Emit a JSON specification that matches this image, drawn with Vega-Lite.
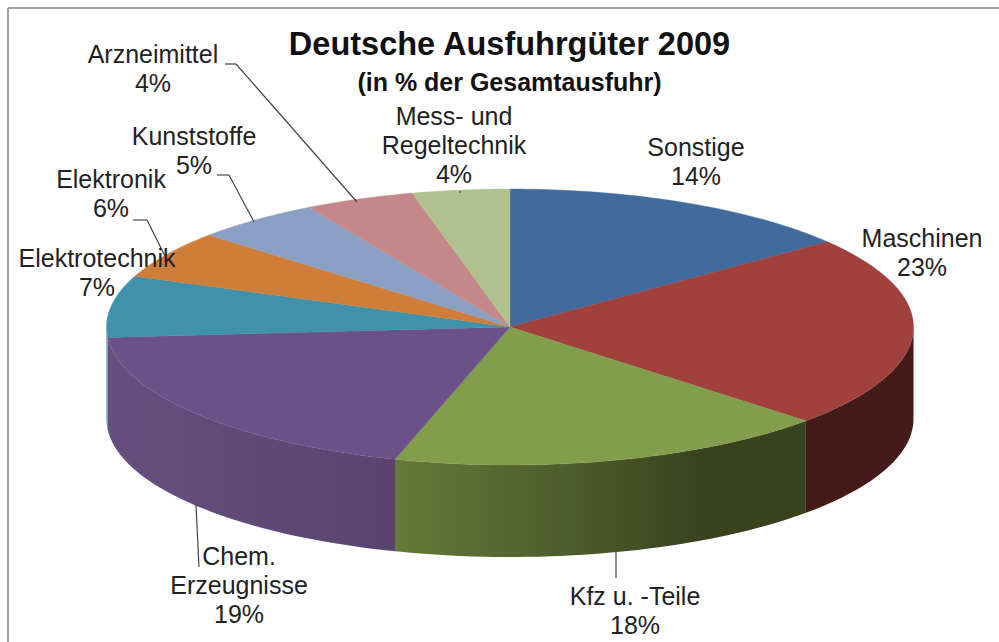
{
"$schema":"https://vega.github.io/schema/vega-lite/v6.json",
"width":999,"height":642,"padding":0,"autosize":{"type":"none"},"background":"white",
"title":{"text":"Deutsche Ausfuhrgüter 2009","subtitle":"(in % der Gesamtausfuhr)","anchor":"middle","dx":10,"offset":-96,"font":"Liberation Sans","fontSize":32.5,"fontWeight":"bold","color":"#111","subtitleFont":"Liberation Sans","subtitleFontSize":25,"subtitleFontWeight":"bold","subtitleColor":"#111","subtitlePadding":10},
"config":{"view":{"stroke":null},"axis":{"disable":true},"text":{"font":"Liberation Sans","fontSize":25,"lineHeight":29,"lineBreak":"\n","color":"#222"},"rule":{"color":"#444","strokeWidth":1.2}},
"datasets":{"slices":[
{"slice":"Sonstige","percent":14.4},
{"slice":"Maschinen","percent":22.5},
{"slice":"Kfz u. -Teile","percent":17.7},
{"slice":"Chem.\nErzeugnisse","percent":19.2},
{"slice":"Elektrotechnik","percent":7.2},
{"slice":"Elektronik","percent":5.6},
{"slice":"Kunststoffe","percent":5.1},
{"slice":"Arzneimittel","percent":4.4},
{"slice":"Mess- und\nRegeltechnik","percent":3.9}
]},
"layer":[
{"data":{"name":"slices"},"transform":[
{"window":[{"op":"sum","field":"percent","as":"end"}]},
{"calculate":"datum.end-datum.percent","as":"start"},
{"calculate":"sequence(-1,41)","as":"i"},
{"flatten":["i"]},
{"calculate":"2*PI*(datum.start+datum.percent*max(datum.i,0)/40)/100","as":"a"},
{"calculate":"datum.i<0?0:sin(datum.a)","as":"X"},
{"calculate":"datum.i<0?0:cos(datum.a)","as":"Y"},
{"calculate":"clamp(datum.a,PI/2,3*PI/2)","as":"wa"},
{"calculate":"sin(datum.wa)","as":"WX"},
{"calculate":"cos(datum.wa)","as":"WY"},
{"calculate":"cos(datum.wa)-0.6667","as":"WY2"}
],
"layer":[
{"transform":[{"filter":"datum.slice=='Maschinen'&&datum.i>=0"}],"mark":{"type":"area","fill":"#431b18"},
 "encoding":{"x":{"field":"WX","type":"quantitative","scale":{"domain":[-1.26394,1.21189],"nice":false,"zero":false}},"y":{"field":"WY","type":"quantitative","scale":{"domain":[-2.28261,2.36957],"nice":false,"zero":false}},"y2":{"field":"WY2"}}},
{"transform":[{"filter":"datum.slice=='Kfz u. -Teile'&&datum.i>=0"}],"mark":{"type":"area","fill":{"gradient":"linear","x1":0,"x2":1,"y1":0,"y2":0,"stops":[{"offset":0,"color":"#67793a"},{"offset":0.45,"color":"#4d5a2a"},{"offset":0.75,"color":"#3a421e"},{"offset":1,"color":"#39411e"}]}},
 "encoding":{"x":{"field":"WX","type":"quantitative"},"y":{"field":"WY","type":"quantitative"},"y2":{"field":"WY2"}}},
{"transform":[{"filter":"datum.slice=='Chem.\\nErzeugnisse'&&datum.i>=0"}],"mark":{"type":"area","fill":{"gradient":"linear","x1":0,"x2":1,"y1":0,"y2":0,"stops":[{"offset":0,"color":"#66507f"},{"offset":1,"color":"#59436f"}]}},
 "encoding":{"x":{"field":"WX","type":"quantitative"},"y":{"field":"WY","type":"quantitative"},"y2":{"field":"WY2"}}},
{"transform":[{"filter":"datum.slice=='Elektrotechnik'&&datum.i>=0"}],"mark":{"type":"area","fill":"#3f8fa8"},
 "encoding":{"x":{"field":"WX","type":"quantitative"},"y":{"field":"WY","type":"quantitative"},"y2":{"field":"WY2"}}},
{"mark":{"type":"line","strokeWidth":0.4,"interpolate":"linear-closed"},
 "encoding":{"x":{"field":"X","type":"quantitative"},"y":{"field":"Y","type":"quantitative"},"order":{"field":"i"},
 "fill":{"field":"slice","type":"nominal","legend":null,"scale":{"domain":["Sonstige","Maschinen","Kfz u. -Teile","Chem.\nErzeugnisse","Elektrotechnik","Elektronik","Kunststoffe","Arzneimittel","Mess- und\nRegeltechnik"],"range":["#416a9d","#a0413e","#829e4d","#6a5289","#3f92a9","#cf7e39","#8b9fc4","#c58888","#b1c18e"]}},
 "stroke":{"field":"slice","type":"nominal","legend":null,"scale":{"domain":["Sonstige","Maschinen","Kfz u. -Teile","Chem.\nErzeugnisse","Elektrotechnik","Elektronik","Kunststoffe","Arzneimittel","Mess- und\nRegeltechnik"],"range":["#416a9d","#a0413e","#829e4d","#6a5289","#3f92a9","#cf7e39","#8b9fc4","#c58888","#b1c18e"]}}}}
]},
{"data":{"name":"slices"},"transform":[{"filter":{"field":"slice","equal":"Sonstige"}}],
"layer":[
{"mark":{"type":"rule","color":"#a0a0a0","strokeWidth":2},"encoding":{"x":{"datum":-1.2441},"x2":{"datum":1.21189},"y":{"datum":2.3116},"y2":{"datum":2.3116}}},
{"mark":{"type":"rule","color":"#a0a0a0","strokeWidth":2},"encoding":{"x":{"datum":-1.2441},"x2":{"datum":-1.2441},"y":{"datum":2.3116},"y2":{"datum":-2.28261}}},
{"mark":"rule","encoding":{"x":{"datum":-0.7063},"x2":{"datum":-0.6790},"y":{"datum":1.9058},"y2":{"datum":1.9058}}},
{"mark":"rule","encoding":{"x":{"datum":-0.6790},"x2":{"datum":-0.3792},"y":{"datum":1.9058},"y2":{"datum":0.9058}}},
{"mark":"rule","encoding":{"x":{"datum":-0.7261},"x2":{"datum":-0.6964},"y":{"datum":1.1014},"y2":{"datum":1.1014}}},
{"mark":"rule","encoding":{"x":{"datum":-0.6964},"x2":{"datum":-0.6344},"y":{"datum":1.1014},"y2":{"datum":0.7609}}},
{"mark":"rule","encoding":{"x":{"datum":-0.9343},"x2":{"datum":-0.8996},"y":{"datum":0.7754},"y2":{"datum":0.7754}}},
{"mark":"rule","encoding":{"x":{"datum":-0.8996},"x2":{"datum":-0.8525},"y":{"datum":0.7754},"y2":{"datum":0.5}}},
{"mark":"rule","encoding":{"x":{"datum":-0.1239},"x2":{"datum":-0.1239},"y":{"datum":0.9855},"y2":{"datum":0.9710}}},
{"mark":"rule","encoding":{"x":{"datum":-0.7782},"x2":{"datum":-0.7708},"y":{"datum":-1.2899},"y2":{"datum":-1.7391}}},
{"mark":"rule","encoding":{"x":{"datum":0.2627},"x2":{"datum":0.2627},"y":{"datum":-1.6304},"y2":{"datum":-1.8188}}}
]},
{"data":{"name":"slices"},"transform":[{"calculate":"datum.slice+'\\n'+round(datum.percent)+'%'","as":"label"}],
"layer":[
{"transform":[{"filter":{"field":"slice","equal":"Sonstige"}}],"mark":"text","encoding":{"x":{"datum":0.4610},"y":{"datum":1.2971},"text":{"field":"label"}}},
{"transform":[{"filter":{"field":"slice","equal":"Maschinen"}}],"mark":"text","encoding":{"x":{"datum":1.0211},"y":{"datum":0.6377},"text":{"field":"label"}}},
{"transform":[{"filter":{"field":"slice","equal":"Kfz u. -Teile"}}],"mark":"text","encoding":{"x":{"datum":0.3098},"y":{"datum":-1.9565},"text":{"field":"label"}}},
{"transform":[{"filter":{"field":"slice","equal":"Chem.\nErzeugnisse"}}],"mark":"text","encoding":{"x":{"datum":-0.6716},"y":{"datum":-1.6667},"text":{"field":"label"}}},
{"transform":[{"filter":{"field":"slice","equal":"Elektrotechnik"}}],"mark":"text","encoding":{"x":{"datum":-1.0235},"y":{"datum":0.4928},"text":{"field":"label"}}},
{"transform":[{"filter":{"field":"slice","equal":"Elektronik"}}],"mark":"text","encoding":{"x":{"datum":-0.9888},"y":{"datum":1.0652},"text":{"field":"label"}}},
{"transform":[{"filter":{"field":"slice","equal":"Kunststoffe"}}],"mark":"text","encoding":{"x":{"datum":-0.7831},"y":{"datum":1.3768},"text":{"field":"label"}}},
{"transform":[{"filter":{"field":"slice","equal":"Arzneimittel"}}],"mark":"text","encoding":{"x":{"datum":-0.8848},"y":{"datum":1.9710},"text":{"field":"label"}}},
{"transform":[{"filter":{"field":"slice","equal":"Mess- und\nRegeltechnik"}}],"mark":"text","encoding":{"x":{"datum":-0.1388},"y":{"datum":1.5217},"text":{"field":"label"}}}
]}
]
}
